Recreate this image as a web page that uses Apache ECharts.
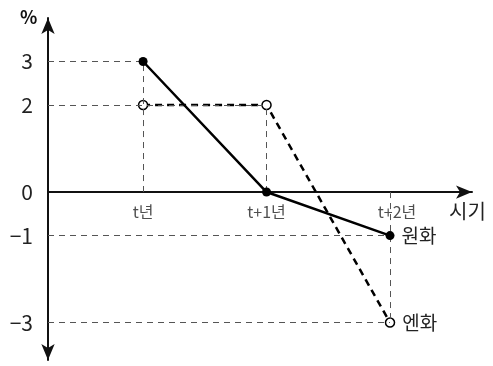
<!DOCTYPE html>
<html>
<head>
<meta charset="utf-8">
<script src="https://cdn.jsdelivr.net/npm/echarts@6/dist/echarts.min.js"></script>
<style>
html, body { margin: 0; padding: 0; background: #fff; }
#container { width: 493px; height: 366px; }
</style>
</head>
<body>
<div id="container"></div>
<script>
var periods = ['t년', 't+1년', 't+2년'];
var won = [3, 0, -1];
var yen = [2, 2, -3];
var yTicks = [3, 2, 0, -1, -3];

var xMin = -0.77, xMax = 2.664;
var yMin = -3.86, yMax = 4.0;
var font = '"Noto Sans CJK KR", "Noto Sans", sans-serif';

function pts(arr) {
	return arr.map(function (v, i) { return [i, v]; });
}

// dashed guide lines from each point to both axes
function guides() {
	var out = [];
	[won, yen].forEach(function (arr) {
		arr.forEach(function (v, i) {
			if (v === 0) return;
			out.push([{ coord: [xMin, v] }, { coord: [i, v] }]);
			out.push([{ coord: [i, 0] }, { coord: [i, v] }]);
		});
	});
	return out;
}

var myChart = echarts.init(document.getElementById('container'));

var option = {
	backgroundColor: '#fff',
	animation: false,
	grid: { left: 48, right: 21, top: 18, bottom: 6, outerBoundsMode: 'none', containLabel: false },
	xAxis: {
		type: 'value',
		min: xMin,
		max: xMax,
		splitLine: { show: false },
		axisTick: { show: false },
		axisLabel: { show: false },
		axisLine: {
			onZero: true,
			symbol: ['none', 'arrow'],
			symbolSize: [10, 16],
			lineStyle: { color: '#111', width: 2 }
		}
	},
	yAxis: {
		type: 'value',
		min: yMin,
		max: yMax,
		splitLine: { show: false },
		axisTick: { show: false },
		axisLine: {
			onZero: false,
			symbol: ['arrow', 'arrow'],
			symbolSize: [10, 16],
			lineStyle: { color: '#111', width: 2 }
		},
		axisLabel: {
			customValues: yTicks,
			formatter: function (v) { return v < 0 ? '−' + Math.abs(v) : String(v); },
			fontFamily: font,
			fontSize: 21,
			color: '#222',
			margin: 15
		}
	},
	graphic: [
		{ type: 'text', left: 20, top: 8, style: { text: '%', font: 'bold 18px ' + font, fill: '#111' } },
		{ type: 'text', left: 449, top: 201, style: { text: '시기', font: '20px ' + font, fill: '#222' } }
	],
	series: [
		{
			// period labels under the horizontal axis
			type: 'scatter',
			data: periods.map(function (p, i) { return [i, 0]; }),
			symbolSize: 0,
			silent: true,
			z: 1,
			label: {
				show: true,
				position: 'bottom',
				distance: 12,
				fontFamily: font,
				fontSize: 16,
				color: '#222',
				formatter: function (p) { return periods[p.dataIndex]; }
			},
			labelLayout: function (p) {
				return p.dataIndex === 2 ? { dx: 7 } : {};
			}
		},
		{
			name: '원화',
			type: 'line',
			data: pts(won),
			symbol: 'circle',
			symbolSize: 9,
			itemStyle: { color: '#000' },
			lineStyle: { color: '#000', width: 2.5 },
			z: 5,
			label: {
				show: true,
				position: 'right',
				distance: 7,
				fontFamily: font,
				fontSize: 19,
				color: '#222',
				formatter: function (p) { return p.dataIndex === won.length - 1 ? '원화' : ''; }
			},
			markLine: {
				silent: true,
				symbol: 'none',
				label: { show: false },
				lineStyle: { color: '#555', width: 1, type: [6, 5] },
				data: guides()
			}
		},
		{
			name: '엔화',
			type: 'line',
			data: pts(yen),
			symbol: 'circle',
			symbolSize: 9,
			itemStyle: { color: '#fff', borderColor: '#000', borderWidth: 1.5 },
			lineStyle: { color: '#000', width: 2.5, type: [7, 5] },
			z: 4,
			label: {
				show: true,
				position: 'right',
				distance: 7,
				fontFamily: font,
				fontSize: 19,
				color: '#222',
				formatter: function (p) { return p.dataIndex === yen.length - 1 ? '엔화' : ''; }
			}
		}
	]
};

myChart.setOption(option);
</script>
</body>
</html>
